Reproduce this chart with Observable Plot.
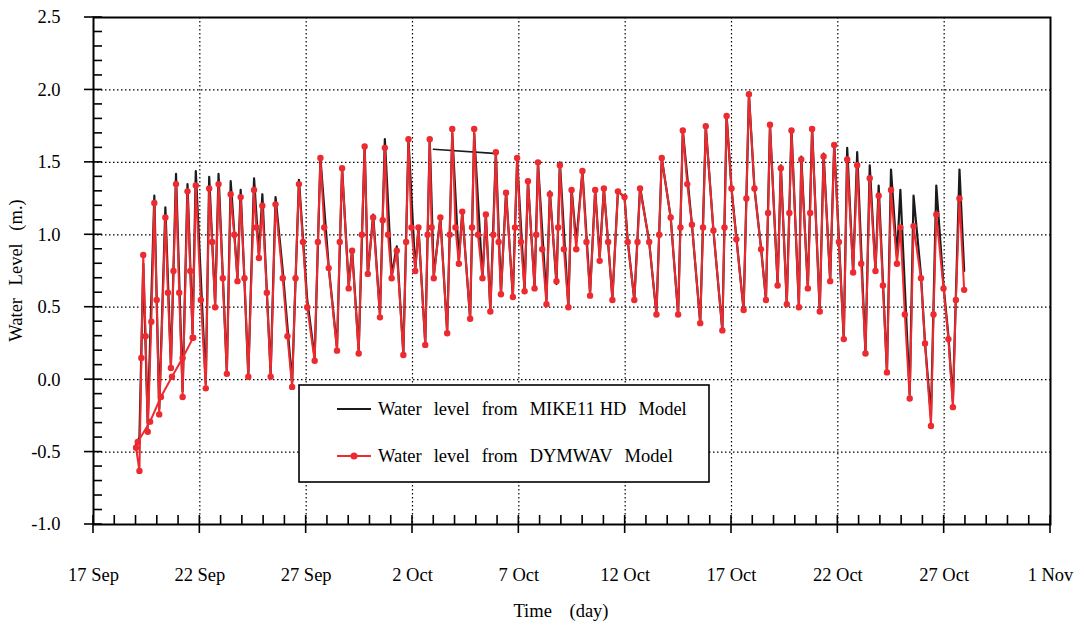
<!DOCTYPE html>
<html><head><meta charset="utf-8">
<script src="https://cdn.jsdelivr.net/npm/d3@7"></script>
<script src="https://cdn.jsdelivr.net/npm/@observablehq/plot@0.6"></script>
<style>
body{margin:0;background:#fff}
svg{font-family:"Liberation Serif","Times New Roman",serif}
</style>
</head><body><div id="chart"></div>
<script>
// MIKE11 record: time in days after 17 Sep 00:00
const days = [
2.00, 2.16, 2.34, 2.55, 2.86, 3.09, 3.38, 3.64, 3.88, 4.19,
4.42, 4.66, 4.81, 5.28, 5.44, 5.72, 5.88, 6.27, 6.45, 6.77,
6.92, 7.28, 7.55, 7.78, 7.94, 8.33, 8.56, 8.90, 9.34, 9.66,
10.05, 10.40, 10.67, 11.06, 11.45, 11.69, 12.00, 12.16, 12.47, 12.75,
12.90, 13.15, 13.47, 13.70, 14.02, 14.26, 14.57, 14.81, 15.13, 15.28,
15.60, 15.81, 16.00, 16.31, 16.63, 16.87, 17.18, 17.34, 17.71, 17.90,
18.29, 18.45, 18.66, 18.92, 19.16, 19.40, 19.72, 19.92, 20.27, 20.43,
20.74, 20.90, 21.30, 21.46, 21.77, 21.93, 22.33, 22.48, 22.70, 22.99,
23.35, 23.59, 23.80, 24.00, 24.40, 24.66, 24.97, 25.12, 25.43, 25.70,
26.13, 26.47, 26.72, 27.14, 27.49, 27.71, 28.14, 28.53, 28.79, 29.15,
29.57, 29.77, 30.00, 30.23, 30.57, 30.82, 31.08, 31.39, 31.62, 31.81,
32.17, 32.32, 32.60, 32.82, 33.17, 33.28, 33.59, 33.79, 34.15, 34.33,
34.64, 34.83, 35.28, 35.44, 35.72, 35.91, 36.30, 36.50, 36.77, 36.92,
37.31, 37.50, 37.78, 37.94, 38.38, 38.56, 38.91, 39.10, 39.38, 39.63,
39.97, 40.20, 40.41, 40.72, 40.94
];
// Water level from MIKE11 HD Model (m.)
const mike = [
-0.45, -0.40, 0.80, -0.30, 1.27, -0.20, 1.19, 0.10, 1.42, -0.08,
1.35, 0.32, 1.44, -0.03, 1.40, 0.52, 1.42, 0.05, 1.37, 0.70,
1.31, 0.03, 1.39, 0.86, 1.28, 0.04, 1.26, 0.75, -0.02, 1.38,
0.55, 0.15, 1.53, 0.78, 0.22, 1.46, 0.65, 0.90, 0.20, 1.62,
0.72, 1.14, 0.45, 1.66, 0.72, 0.92, 0.18, 1.66, 0.76, 1.05,
0.25, 1.66, 0.72, 1.12, 0.33, 1.70, 0.82, 1.16, 0.42, 1.70,
0.70, 1.14, 0.48, 1.57, 0.60, 1.30, 0.57, 1.52, 0.62, 1.37,
0.64, 1.50, 0.55, 1.30, 0.66, 1.50, 0.50, 1.32, 0.95, 1.44,
0.60, 1.31, 0.85, 1.32, 0.56, 1.30, 1.26, 0.96, 0.55, 1.33,
0.95, 0.45, 1.53, 1.12, 0.45, 1.72, 1.07, 0.39, 1.75, 1.03,
0.34, 1.82, 1.32, 0.98, 0.48, 1.97, 1.32, 0.91, 0.55, 1.76,
0.65, 1.48, 0.52, 1.73, 0.50, 1.54, 0.63, 1.74, 0.47, 1.56,
0.68, 1.63, 0.28, 1.60, 0.74, 1.57, 0.18, 1.48, 0.75, 1.34,
0.05, 1.45, 0.85, 1.31, -0.10, 1.27, 0.72, 0.25, -0.25, 1.34,
0.65, 0.30, -0.15, 1.45, 0.75
];
// Water level from DYMWAV Model: [day after 17 Sep, level (m.)]
const dymwav = [
[2.00,-0.47],[2.16,-0.63],[2.25,0.15],[2.34,0.86],[2.45,0.30],[2.55,-0.36],[2.72,0.40],[2.86,1.22],
[2.97,0.55],[3.09,-0.24],[3.38,1.12],[3.50,0.60],[3.64,0.08],[3.76,0.75],[3.88,1.35],[4.03,0.60],
[4.19,-0.12],[4.42,1.30],[4.55,0.75],[4.66,0.29],[4.81,1.34],[5.05,0.55],[5.28,-0.06],[5.44,1.32],
[5.58,0.95],[5.72,0.50],[5.88,1.35],[6.08,0.70],[6.27,0.04],[6.45,1.28],[6.62,1.00],[6.77,0.68],
[6.92,1.26],[7.10,0.70],[7.28,0.02],[7.55,1.31],[7.66,1.05],[7.78,0.84],[7.94,1.20],[8.15,0.60],
[8.33,0.02],[8.56,1.21],[8.90,0.70],[9.12,0.30],[9.34,-0.05],[9.50,0.70],[9.66,1.35],[9.85,0.95],
[10.05,0.50],[10.40,0.13],[10.55,0.95],[10.67,1.53],[10.85,1.05],[11.06,0.77],[11.45,0.20],[11.58,0.95],
[11.69,1.46],[12.00,0.63],[12.16,0.89],[12.47,0.18],[12.62,1.00],[12.75,1.61],[12.90,0.73],[13.15,1.12],
[13.47,0.43],[13.60,1.10],[13.70,1.60],[13.85,1.00],[14.02,0.70],[14.26,0.89],[14.57,0.17],[14.70,0.95],
[14.81,1.66],[14.95,1.05],[15.13,0.75],[15.28,1.05],[15.60,0.24],[15.71,1.00],[15.81,1.66],[15.90,1.05],
[16.00,0.70],[16.31,1.12],[16.63,0.32],[16.75,1.00],[16.87,1.73],[17.02,1.05],[17.18,0.80],[17.34,1.16],
[17.71,0.42],[17.80,1.05],[17.90,1.73],[18.08,1.00],[18.29,0.70],[18.45,1.14],[18.66,0.47],[18.80,1.00],
[18.92,1.57],[19.05,0.95],[19.16,0.59],[19.40,1.29],[19.72,0.57],[19.82,1.05],[19.92,1.53],[20.10,0.95],
[20.27,0.61],[20.43,1.37],[20.74,0.63],[20.82,1.00],[20.90,1.50],[21.10,0.90],[21.30,0.52],[21.46,1.28],
[21.77,0.68],[21.85,1.05],[21.93,1.48],[22.12,0.90],[22.33,0.50],[22.48,1.31],[22.70,0.90],[22.99,1.44],
[23.18,0.95],[23.35,0.58],[23.59,1.31],[23.80,0.82],[24.00,1.32],[24.20,0.95],[24.40,0.55],[24.66,1.30],
[24.97,1.26],[25.12,0.95],[25.43,0.55],[25.58,0.95],[25.70,1.32],[26.13,0.95],[26.47,0.45],[26.60,1.00],
[26.72,1.53],[27.14,1.12],[27.49,0.45],[27.60,1.05],[27.71,1.72],[27.92,1.35],[28.14,1.07],[28.53,0.39],
[28.66,1.05],[28.79,1.75],[29.15,1.03],[29.57,0.34],[29.67,1.05],[29.77,1.82],[30.00,1.32],[30.23,0.97],
[30.57,0.48],[30.70,1.25],[30.82,1.97],[31.08,1.32],[31.39,0.90],[31.62,0.55],[31.72,1.15],[31.81,1.76],
[32.17,0.65],[32.32,1.46],[32.60,0.52],[32.72,1.15],[32.82,1.72],[33.17,0.50],[33.28,1.52],[33.59,0.63],
[33.70,1.15],[33.79,1.73],[34.15,0.47],[34.33,1.54],[34.64,0.68],[34.83,1.62],[35.05,0.95],[35.28,0.28],
[35.44,1.52],[35.72,0.74],[35.91,1.48],[36.10,0.80],[36.30,0.18],[36.50,1.39],[36.77,0.75],[36.92,1.27],
[37.12,0.65],[37.31,0.05],[37.50,1.31],[37.78,0.80],[37.94,1.05],[38.15,0.45],[38.38,-0.13],[38.56,1.06],
[38.91,0.70],[39.10,0.25],[39.38,-0.32],[39.50,0.45],[39.63,1.14],[39.97,0.63],[40.20,0.28],[40.41,-0.19],
[40.55,0.55],[40.72,1.25],[40.94,0.62]
];
// straight connecting segment in the MIKE11 record
const mikeJump = [[15.98, 1.59], [18.99, 1.56]];
// early DYMWAV run drawn as a diagonal
const dymEarly = [[2.08, -0.43], [2.66, -0.29], [3.17, -0.12], [3.69, 0.02], [4.19, 0.15], [4.69, 0.29]];

const xTickDays = [0, 5, 10, 15, 20, 25, 30, 35, 40, 45];
const xTickLabels = ["17 Sep", "22 Sep", "27 Sep", "2 Oct", "7 Oct", "12 Oct", "17 Oct", "22 Oct", "27 Oct", "1 Nov"];
const yTicks = [-1.0, -0.5, 0.0, 0.5, 1.0, 1.5, 2.0, 2.5];
const legendParts = [["Water", "level", "from", "MIKE11", "HD", "Model"], ["Water", "level", "from", "DYMWAV", "Model"]];

const RED = "#ec2a2f", BLACK = "#1b1b1b";
const FS = 18.5;

const mikeRows = days.map((d, i) => ({d, v: mike[i]}));
const dymRows = dymwav.map(([d, v]) => ({d, v}));
const jumpRows = mikeJump.map(([d, v]) => ({d, v}));
const earlyRows = dymEarly.map(([d, v]) => ({d, v}));

const plot = Plot.plot({
  width: 1084, height: 628,
  marginLeft: 93, marginRight: 34, marginTop: 17, marginBottom: 104,
  style: {fontFamily: '"Liberation Serif", serif', fontSize: FS + "px", color: "#000", background: "#fff", overflow: "visible"},
  x: {domain: [0, 45], ticks: xTickDays, tickFormat: d => xTickLabels[xTickDays.indexOf(d)], tickSize: 0, tickPadding: 43, label: null},
  y: {domain: [-1, 2.5], ticks: yTicks, tickFormat: d => d.toFixed(1), tickSize: 0, tickPadding: 33, label: null},
  marks: [
    Plot.ruleX(xTickDays.slice(1, -1), {stroke: "#000", strokeWidth: 1.2, strokeDasharray: "1.5,2.5"}),
    Plot.ruleY(yTicks.slice(1, -1), {stroke: "#000", strokeWidth: 1.2, strokeDasharray: "1.5,2.5"}),
    Plot.line(mikeRows, {x: "d", y: "v", stroke: BLACK, strokeWidth: 2.2}),
    Plot.line(jumpRows, {x: "d", y: "v", stroke: BLACK, strokeWidth: 1.6}),
    Plot.line(dymRows, {x: "d", y: "v", stroke: RED, strokeWidth: 2}),
    Plot.line(earlyRows, {x: "d", y: "v", stroke: RED, strokeWidth: 2}),
    Plot.dot(dymRows, {x: "d", y: "v", r: 3.2, fill: RED}),
    Plot.dot(earlyRows, {x: "d", y: "v", r: 3.2, fill: RED}),
    Plot.frame({stroke: "#000", strokeWidth: 2})
  ]
});

document.getElementById("chart").appendChild(plot);

const sx = plot.scale("x"), sy = plot.scale("y");
const svg = d3.select(plot);
const X = v => sx.apply(v), Y = v => sy.apply(v);
const x0 = X(0), yb = Y(-1), yt = Y(2.5);
const g = svg.append("g").attr("stroke", "#000").attr("stroke-width", 1.6);
// x ticks: minor every day (inward), major every 5 days (both sides)
for (let d = 0; d <= 45; d++) {
  const major = d % 5 === 0;
  g.append("line").attr("x1", X(d)).attr("x2", X(d))
    .attr("y1", yb - 9).attr("y2", major ? yb + 9 : yb);
}
// y ticks: minor every 0.1 (inward), major every 0.5 (both sides)
for (let k = -10; k <= 25; k++) {
  const v = k / 10, major = k % 5 === 0;
  g.append("line").attr("y1", Y(v)).attr("y2", Y(v))
    .attr("x1", major ? x0 - 9 : x0).attr("x2", x0 + 9);
}
// axis titles
svg.append("text").attr("x", 561).attr("y", 617).attr("text-anchor", "middle")
  .attr("font-size", FS).style("word-spacing", "13px").text("Time (day)");
svg.append("text").attr("transform", `translate(22,${(yb + yt) / 2}) rotate(-90)`)
  .attr("text-anchor", "middle").attr("font-size", FS).style("word-spacing", "8px").text("Water Level (m.)");

// legend
const lg = svg.append("g");
lg.append("rect").attr("x", 299).attr("y", 385).attr("width", 410).attr("height", 97)
  .attr("fill", "#fff").attr("stroke", "#000").attr("stroke-width", 1.6);
lg.append("line").attr("x1", 337).attr("x2", 371).attr("y1", 409).attr("y2", 409)
  .attr("stroke", BLACK).attr("stroke-width", 2);
lg.append("line").attr("x1", 337).attr("x2", 371).attr("y1", 456).attr("y2", 456)
  .attr("stroke", RED).attr("stroke-width", 2);
lg.append("circle").attr("cx", 354).attr("cy", 456).attr("r", 3.5).attr("fill", RED);
[[415, legendParts[0]], [462, legendParts[1]]].forEach(([y, parts]) => {
  const t = lg.append("text").attr("x", 378).attr("y", y).attr("font-size", FS)
    .attr("text-anchor", "start").attr("fill", "#000");
  parts.forEach((w, i) => {
    const gap = i === 0 ? 0 : (w === "HD" ? 5 : 12);
    t.append("tspan").attr("dx", gap).text(w);
  });
});
</script>
</body></html>
